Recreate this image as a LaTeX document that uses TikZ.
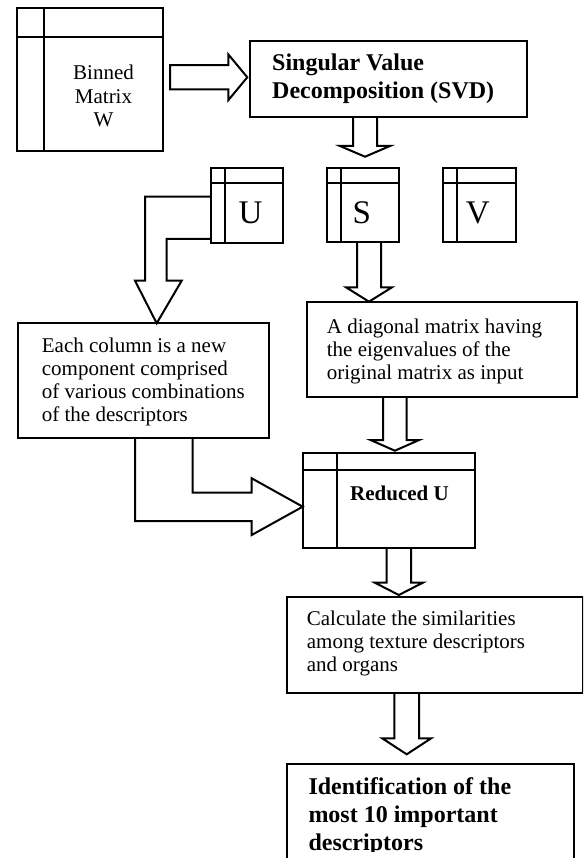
\documentclass[tikz,border=0pt]{standalone}
\usepackage{fontspec}
\setmainfont{Liberation Serif}
\usetikzlibrary{calc}
\tikzset{
 box/.style={draw, line width=2pt, inner sep=0pt, outer sep=0pt, anchor=north west},
 blk/.style={draw, line width=2pt, line join=miter},
 mline/.style={line width=2pt},
 rtext/.style={inner sep=0pt, font=\fontsize{21}{23.2}\selectfont, align=left, anchor=north west},
 btext/.style={inner sep=0pt, font=\fontsize{24}{28.3}\selectfont\bfseries, align=left, anchor=north west},
 mtext/.style={inner sep=0pt, font=\fontsize{33}{36}\selectfont, anchor=base},
}
% #1 source anchor (shaft top y), #2 tip point, #3 half shaft, #4 half head, #5 head length
\newcommand{\blkdown}[5]{\draw[blk] let \p1=(#1), \p2=(#2) in
  (\x2-#3pt,\y1) -- (\x2-#3pt,\y2+#5pt) -- (\x2-#4pt,\y2+#5pt) -- (\x2,\y2)
  -- (\x2+#4pt,\y2+#5pt) -- (\x2+#3pt,\y2+#5pt) -- (\x2+#3pt,\y1);}
\begin{document}
\begin{tikzpicture}[x=1pt,y=-1pt]
\useasboundingbox (0,0) rectangle (583,858);
\clip (0,0) rectangle (583,858);

% boxes
\node[box, minimum width=146pt, minimum height=143pt] (binned) at (17,8) {};
\draw[mline] ([xshift=27pt]binned.north west) -- ([xshift=27pt]binned.south west);
\draw[mline] ([yshift=-29pt]binned.north west) -- ([yshift=-29pt]binned.north east);
\node[rtext, anchor=north, align=center] (binnedtxt) at (103.5,65.1) {Binned\\Matrix\\W};

\node[box, minimum width=276.7pt, minimum height=76pt] (svd) at (250,40.7) {};
\node[btext] (svdtxt) at (272,53.8) {Singular Value\\Decomposition (SVD)};

\node[box, minimum width=72.3pt, minimum height=74.4pt] (U) at (211,168.3) {};
\draw[mline] ([xshift=14pt]U.north west) -- ([xshift=14pt]U.south west);
\draw[mline] ([yshift=-14.4pt]U.north west) -- ([yshift=-14.4pt]U.north east);
\node[mtext] (Utxt) at (250.6,223.3) {U};

\node[box, minimum width=72.6pt, minimum height=73.4pt] (S) at (326.7,168.3) {};
\draw[mline] ([xshift=14.3pt]S.north west) -- ([xshift=14.3pt]S.south west);
\draw[mline] ([yshift=-14.4pt]S.north west) -- ([yshift=-14.4pt]S.north east);
\node[mtext] (Stxt) at (361.7,223.3) {S};

\node[box, minimum width=73pt, minimum height=73.4pt] (V) at (442.7,168.3) {};
\draw[mline] ([xshift=14pt]V.north west) -- ([xshift=14pt]V.south west);
\draw[mline] ([yshift=-14.4pt]V.north west) -- ([yshift=-14.4pt]V.north east);
\node[mtext] (Vtxt) at (477.8,223.3) {V};

\node[box, minimum width=251pt, minimum height=114.4pt] (each) at (18.3,323.3) {};
\node[rtext] (eachtxt) at (41.7,337.4) {Each column is a new\\component comprised\\of various combinations\\of the descriptors};

\node[box, minimum width=270.6pt, minimum height=95pt] (diag) at (306.7,302.3) {};
\node[rtext] (diagtxt) at (326.7,318.7) {A diagonal matrix having\\the eigenvalues of the\\original matrix as input};

\node[box, minimum width=172.3pt, minimum height=95pt] (RU) at (302.7,453.3) {};
\draw[mline] ([xshift=34pt]RU.north west) -- ([xshift=34pt]RU.south west);
\draw[mline] ([yshift=-16.7pt]RU.north west) -- ([yshift=-16.7pt]RU.north east);
\node[btext, font=\fontsize{21}{24}\selectfont\bfseries, anchor=base west] (rutxt) at (350,500) {Reduced U};

\node[box, minimum width=296pt, minimum height=96pt] (calc) at (286.7,596.7) {};
\node[rtext] (calctxt) at (306.7,610.7) {Calculate the similarities\\among texture descriptors\\and organs};

\node[box, minimum width=287.6pt, minimum height=120pt] (ident) at (286.7,764.3) {};
\begin{scope}
\clip (0,0) rectangle (583,851);
\node[btext] (identtxt) at (308.3,776.9) {Identification of the\\most 10 important\\descriptors};
\end{scope}

% block arrows
\draw[blk] let \p1=(binned.east), \p2=($(svd.west)+(-2.7,-1.4)$) in
  (\x1+7pt,\y2+12.2pt) -- (\x2-19pt,\y2+12.2pt) -- (\x2-19pt,\y2+22.9pt) -- (\x2,\y2)
  -- (\x2-19pt,\y2-22.9pt) -- (\x2-19pt,\y2-12.2pt) -- (\x1+7pt,\y2-12.2pt) -- cycle;

\blkdown{svd.south}{$(S.north)+(2,-11.6)$}{12}{25}{10.7}
\blkdown{S.south}{$(S.south |- diag.north)+(6,-0.6)$}{12}{23}{14.4}
\blkdown{diag.south}{$(RU.north)+(6,-2.6)$}{11.7}{24.3}{10.7}
\blkdown{RU.south}{$(RU.south |- calc.north)+(10,-1.7)$}{12.3}{24}{12.3}
\blkdown{calc.south}{$(ident.north)+(-23.8,-10)$}{12.3}{24.5}{16}

\draw[blk] (U.west |- 0,196.7) -- (145,196.7) -- (145,280.7) -- (135,280.7)
  -- (156.7,0 |- each.north) -- (181.7,280.7) -- (166.7,280.7) -- (166.7,239) -- (U.west |- 0,239);

\draw[blk] (192.7,0 |- each.south) -- (192.7,492.7) -- (251.7,492.7) -- (251.7,478.3)
  -- (RU.west |- 0,506.7) -- (251.7,535) -- (251.7,521) -- (135,521) -- (135,0 |- each.south);
\end{tikzpicture}
\end{document}
